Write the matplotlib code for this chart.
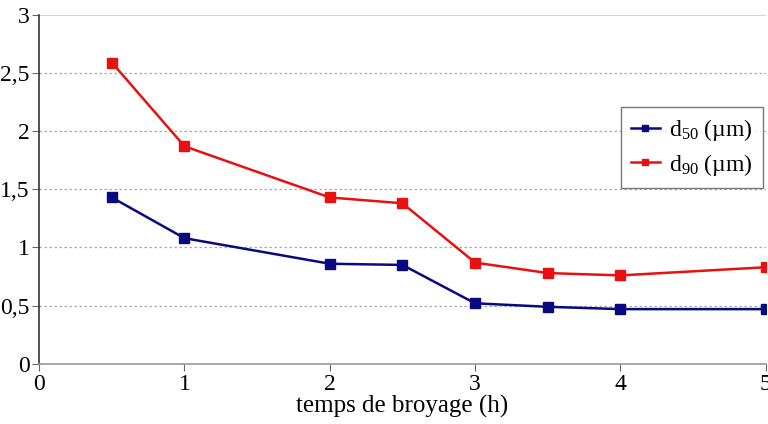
import matplotlib.pyplot as plt
from matplotlib.ticker import FuncFormatter

plt.rcParams['font.family'] = ['Liberation Serif', 'DejaVu Serif']
plt.rcParams['mathtext.fontset'] = 'custom'
plt.rcParams['mathtext.rm'] = 'Liberation Serif'
plt.rcParams['mathtext.it'] = 'Liberation Serif'

temps = [0.5, 1, 2, 2.5, 3, 3.5, 4, 5]
d50 = [1.43, 1.08, 0.86, 0.85, 0.52, 0.49, 0.47, 0.47]
d90 = [2.59, 1.87, 1.43, 1.38, 0.87, 0.78, 0.76, 0.83]

fig = plt.figure(figsize=(7.68, 4.24), dpi=100)
ax = fig.add_axes([0.051, 0.142, 0.946, 0.823])

ax.plot(temps, d50, color="#0a0a80", lw=1.8, marker="s", ms=6.5, label=r"d$_{50}$ (µm)")
ax.plot(temps, d90, color="#e81010", lw=1.8, marker="s", ms=6.5, label=r"d$_{90}$ (µm)")

ax.set_xlim(0, 5)
ax.set_ylim(0, 3)
ax.set_xticks([0, 1, 2, 3, 4, 5])
ax.set_yticks([0, 0.5, 1, 1.5, 2, 2.5, 3])
ax.yaxis.set_major_formatter(FuncFormatter(lambda v, p: ("%g" % v).replace(".", ",")))
ax.tick_params(labelsize=17, direction="out", length=5, color="#666666", pad=2)
for y in [0.5, 1, 1.5, 2, 2.5]:
    ax.axhline(y, color="#aaaaaa", lw=0.9, ls=(0, (2, 2)), zorder=0)
ax.axhline(3, color="#cccccc", lw=1.2, zorder=0)

ax.spines["top"].set_visible(False)
ax.spines["right"].set_visible(False)
ax.spines["left"].set_color("#333333")
ax.spines["bottom"].set_color("#999999")
ax.spines["left"].set_linewidth(1.2)
ax.spines["bottom"].set_linewidth(1.2)

ax.set_xlabel("temps de broyage (h)", fontsize=18, labelpad=0)

leg = ax.legend(loc="center right", bbox_to_anchor=(1.0, 0.62), fontsize=17,
                frameon=True, fancybox=False, edgecolor="#555555",
                handlelength=1.2, handletextpad=0.4, borderpad=0.45,
                labelspacing=0.35, markerscale=0.7, borderaxespad=0.1)
leg.get_frame().set_linewidth(1.0)

plt.savefig("out.png", dpi=100)
